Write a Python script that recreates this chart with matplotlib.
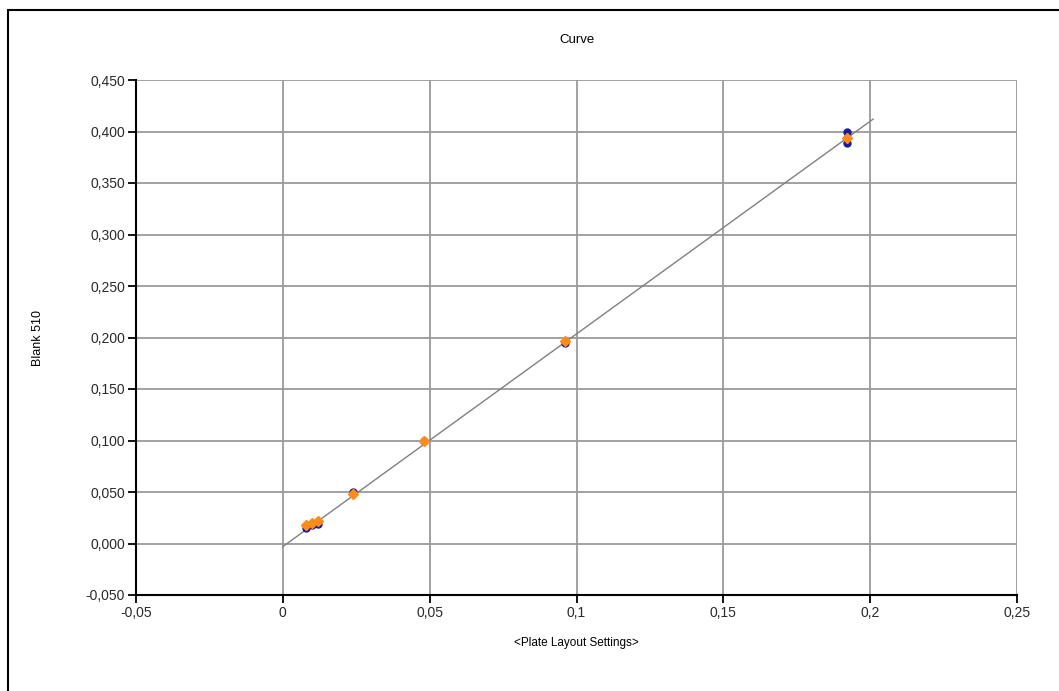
import matplotlib.pyplot as plt
from matplotlib.patches import Rectangle
from matplotlib.ticker import FuncFormatter

plt.rcParams['font.family'] = ['Liberation Sans', 'DejaVu Sans']

# measured points (two replicates)
x_blue = [0.192, 0.192, 0.096, 0.048, 0.024, 0.012, 0.010, 0.008]
y_blue = [0.400, 0.389, 0.195, 0.100, 0.050, 0.019, 0.018, 0.015]
x_orange = [0.192, 0.096, 0.048, 0.024, 0.012, 0.010, 0.008]
y_orange = [0.394, 0.197, 0.100, 0.048, 0.022, 0.020, 0.018]

# fitted line end points
fit_x = [0.0, 0.201]
fit_y = [-0.003, 0.412]

x_ticks = [-0.05, 0, 0.05, 0.1, 0.15, 0.2, 0.25]
y_ticks = [-0.05, 0, 0.05, 0.1, 0.15, 0.2, 0.25, 0.3, 0.35, 0.4, 0.45]

fig = plt.figure(figsize=(10.59, 6.91), dpi=100)
# outer frame
fig.patches.append(Rectangle((8 / 1059, -0.05), 1.2, 1 - 10 / 691 + 0.05,
                             transform=fig.transFigure, fill=False,
                             edgecolor="black", linewidth=1.5))

ax_ = fig.add_axes([136 / 1059, 1 - 595 / 691, (1017 - 136) / 1059, (595 - 80) / 691])
ax_.set_xlim(-0.05, 0.25)
ax_.set_ylim(-0.05, 0.45)
ax_.set_xticks(x_ticks)
ax_.set_yticks(y_ticks)
ax_.xaxis.set_major_formatter(FuncFormatter(lambda v, p: ("%g" % round(v, 3)).replace(".", ",")))
ax_.yaxis.set_major_formatter(FuncFormatter(lambda v, p: ("%.3f" % v).replace(".", ",")))
ax_.grid(True, color="#9a9a9a", linewidth=1.3)
ax_.set_axisbelow(True)
ax_.tick_params(direction="out", length=6, width=1.3, color="black",
                labelsize=10, labelcolor="#2a2a2a", pad=2)

for s in ["top", "right"]:
    ax_.spines[s].set_visible(False)
for s in ["left", "bottom"]:
    ax_.spines[s].set_linewidth(1.5)
    ax_.spines[s].set_color("black")

ax_.plot(fit_x, fit_y, color="#808080", linewidth=1.0, zorder=2)
ax_.plot(x_blue, y_blue, linestyle="none", marker="o", markersize=5,
         color="#1a1aa0", zorder=3)
ax_.plot(x_orange, y_orange, linestyle="none", marker="D", markersize=5.5,
         color="#ff8c1a", zorder=4)

ax_.set_title("Curve", fontsize=9.5, y=1.078, va="center", pad=0)
ax_.set_xlabel("<Plate Layout Settings>", fontsize=8.5)
ax_.xaxis.set_label_coords(0.5, -0.082)
ax_.set_ylabel("Blank 510", fontsize=9, va="center")
ax_.yaxis.set_label_coords(-0.111, 0.5)

plt.savefig("out.png", dpi=100)
